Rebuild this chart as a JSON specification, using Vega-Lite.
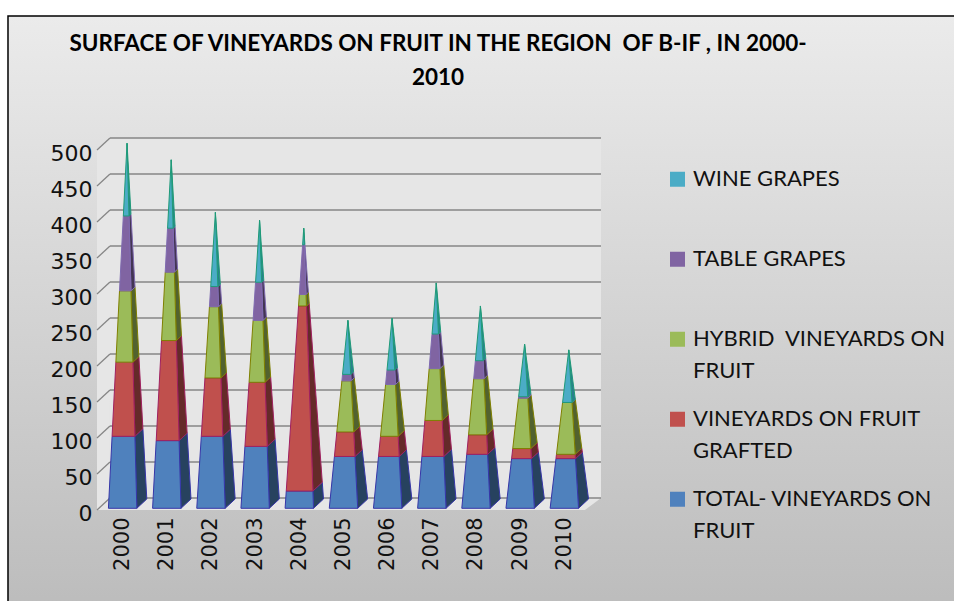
{"$schema":"https://vega.github.io/schema/vega-lite/v6.json","width":504,"height":380,"autosize":{"type":"none"},"padding":{"left":97,"top":130,"right":353,"bottom":91},"background":"white",
"title":{"text":["SURFACE OF VINEYARDS ON FRUIT IN THE REGION \u00a0OF B-IF , IN 2000-","2010"],"font":"Lato","fontWeight":"bold","fontSize":22.5,"color":"#000000","lineHeight":34,"anchor":"middle","dx":89,"offset":-74.5,"align":"center","zindex":1},
"datasets":{"vineyards":[
{"year":2000,"series":"TOTAL- VINEYARDS ON FRUIT","value":100},{"year":2000,"series":"VINEYARDS ON FRUIT GRAFTED","value":103},{"year":2000,"series":"HYBRID  VINEYARDS ON FRUIT","value":99},{"year":2000,"series":"TABLE GRAPES","value":104},{"year":2000,"series":"WINE GRAPES","value":101},
{"year":2001,"series":"TOTAL- VINEYARDS ON FRUIT","value":94},{"year":2001,"series":"VINEYARDS ON FRUIT GRAFTED","value":139},{"year":2001,"series":"HYBRID  VINEYARDS ON FRUIT","value":95},{"year":2001,"series":"TABLE GRAPES","value":61},{"year":2001,"series":"WINE GRAPES","value":95},
{"year":2002,"series":"TOTAL- VINEYARDS ON FRUIT","value":100},{"year":2002,"series":"VINEYARDS ON FRUIT GRAFTED","value":81},{"year":2002,"series":"HYBRID  VINEYARDS ON FRUIT","value":99},{"year":2002,"series":"TABLE GRAPES","value":28},{"year":2002,"series":"WINE GRAPES","value":103},
{"year":2003,"series":"TOTAL- VINEYARDS ON FRUIT","value":86},{"year":2003,"series":"VINEYARDS ON FRUIT GRAFTED","value":89},{"year":2003,"series":"HYBRID  VINEYARDS ON FRUIT","value":86},{"year":2003,"series":"TABLE GRAPES","value":53},{"year":2003,"series":"WINE GRAPES","value":86},
{"year":2004,"series":"TOTAL- VINEYARDS ON FRUIT","value":24},{"year":2004,"series":"VINEYARDS ON FRUIT GRAFTED","value":257},{"year":2004,"series":"HYBRID  VINEYARDS ON FRUIT","value":16},{"year":2004,"series":"TABLE GRAPES","value":69},{"year":2004,"series":"WINE GRAPES","value":23},
{"year":2005,"series":"TOTAL- VINEYARDS ON FRUIT","value":72},{"year":2005,"series":"VINEYARDS ON FRUIT GRAFTED","value":34},{"year":2005,"series":"HYBRID  VINEYARDS ON FRUIT","value":71},{"year":2005,"series":"TABLE GRAPES","value":9},{"year":2005,"series":"WINE GRAPES","value":75},
{"year":2006,"series":"TOTAL- VINEYARDS ON FRUIT","value":72},{"year":2006,"series":"VINEYARDS ON FRUIT GRAFTED","value":28},{"year":2006,"series":"HYBRID  VINEYARDS ON FRUIT","value":72},{"year":2006,"series":"TABLE GRAPES","value":20},{"year":2006,"series":"WINE GRAPES","value":72},
{"year":2007,"series":"TOTAL- VINEYARDS ON FRUIT","value":72},{"year":2007,"series":"VINEYARDS ON FRUIT GRAFTED","value":50},{"year":2007,"series":"HYBRID  VINEYARDS ON FRUIT","value":72},{"year":2007,"series":"TABLE GRAPES","value":48},{"year":2007,"series":"WINE GRAPES","value":71},
{"year":2008,"series":"TOTAL- VINEYARDS ON FRUIT","value":75},{"year":2008,"series":"VINEYARDS ON FRUIT GRAFTED","value":27},{"year":2008,"series":"HYBRID  VINEYARDS ON FRUIT","value":78},{"year":2008,"series":"TABLE GRAPES","value":25},{"year":2008,"series":"WINE GRAPES","value":76},
{"year":2009,"series":"TOTAL- VINEYARDS ON FRUIT","value":69},{"year":2009,"series":"VINEYARDS ON FRUIT GRAFTED","value":14},{"year":2009,"series":"HYBRID  VINEYARDS ON FRUIT","value":70},{"year":2009,"series":"TABLE GRAPES","value":2},{"year":2009,"series":"WINE GRAPES","value":73},
{"year":2010,"series":"TOTAL- VINEYARDS ON FRUIT","value":69},{"year":2010,"series":"VINEYARDS ON FRUIT GRAFTED","value":6},{"year":2010,"series":"HYBRID  VINEYARDS ON FRUIT","value":72},{"year":2010,"series":"TABLE GRAPES","value":0},{"year":2010,"series":"WINE GRAPES","value":73}
],"ticks":[{"tick":0},{"tick":50},{"tick":100},{"tick":150},{"tick":200},{"tick":250},{"tick":300},{"tick":350},{"tick":400},{"tick":450},{"tick":500}]},
"layer":[
{"data":{"values":[{"a":1997.405,"b":2019,"c":686,"d":-140}]},"mark":{"type":"rect","stroke":"#000000","strokeWidth":1.5,"fill":{"gradient":"linear","x1":0,"y1":0,"x2":0,"y2":1,"stops":[{"offset":0,"color":"#ebebeb"},{"offset":1,"color":"#bcbcbc"}]}},
"encoding":{"x":{"field":"a","type":"quantitative","scale":{"domain":[1999.42,2010.83],"nice":false,"zero":false},"axis":{"values":[2000,2001,2002,2003,2004,2005,2006,2007,2008,2009,2010],"format":"d","labelAngle":-90,"labelFont":"DejaVu Sans","labelFontSize":21,"labelColor":"#111111","labelPadding":7,"domain":false,"ticks":false,"grid":false,"title":null,"labelBaseline":"middle","labelAlign":"right","labelFlush":false,"labelOverlap":false,"labelBound":false,"zindex":1}},"x2":{"field":"b"},"y":{"field":"c","type":"quantitative","scale":{"domain":[0,527.78],"nice":false,"zero":false},"axis":{"values":[0,50,100,150,200,250,300,350,400,450,500],"tickCount":11,"labelFont":"DejaVu Sans","labelFontSize":22,"labelColor":"#111111","labelPadding":5,"labelOffset":3,"domain":false,"ticks":false,"grid":false,"title":null,"labelFlush":false,"labelOverlap":false,"labelBound":false,"zindex":1}},"y2":{"field":"d"}}},
{"data":{"values":[{"a":1999.714,"b":2010.83,"c":16.67,"d":516.67}]},"mark":{"type":"rect","fill":"#e6e6e6"},"encoding":{"x":{"field":"a","type":"quantitative"},"x2":{"field":"b"},"y":{"field":"c","type":"quantitative"},"y2":{"field":"d"}}},
{"data":{"values":[{"a":1999.42,"lo":0,"hi":500},{"a":1999.714,"lo":16.67,"hi":516.67}]},"mark":{"type":"area","fill":"#e6e6e6"},"encoding":{"x":{"field":"a","type":"quantitative"},"y":{"field":"lo","type":"quantitative"},"y2":{"field":"hi"}}},
{"data":{"values":[{"lo":1999.42,"hi":2010.467,"b":0},{"lo":1999.714,"hi":2010.83,"b":16.67}]},"mark":{"type":"area","orient":"horizontal","fill":"#e6e6e6"},"encoding":{"y":{"field":"b","type":"quantitative"},"x":{"field":"lo","type":"quantitative"},"x2":{"field":"hi"}}},
{"data":{"name":"ticks"},"mark":{"type":"rule","color":"#868686","strokeWidth":1.3,"yOffset":-12},"encoding":{"y":{"field":"tick","type":"quantitative"},"x":{"datum":1999.714,"type":"quantitative"},"x2":{"datum":2010.83}}},
{"data":{"name":"ticks"},"transform":[{"calculate":"datum.tick+16.67","as":"top"}],"mark":{"type":"rule","color":"#868686","strokeWidth":1.3},"encoding":{"y":{"field":"tick","type":"quantitative"},"y2":{"field":"top"},"x":{"datum":1999.42,"type":"quantitative"},"x2":{"datum":1999.714}}},
{"mark":{"type":"rule","color":"#9a9a9a","strokeWidth":1.3},"encoding":{"x":{"datum":1999.42,"type":"quantitative"},"y":{"datum":0,"type":"quantitative"},"y2":{"datum":500}}},
{"mark":{"type":"rule","color":"#868686","strokeWidth":1.3},"encoding":{"y":{"datum":0,"type":"quantitative"},"x":{"datum":1999.42,"type":"quantitative"},"x2":{"datum":2010.467}}},
{"mark":{"type":"rule","color":"#9a9a9a","strokeWidth":1.3},"encoding":{"y":{"datum":0,"type":"quantitative"},"y2":{"datum":16.67},"x":{"datum":2010.467,"type":"quantitative"},"x2":{"datum":2010.83}}},
{"data":{"name":"vineyards"},"transform":[
{"calculate":"indexof(['TOTAL- VINEYARDS ON FRUIT','VINEYARDS ON FRUIT GRAFTED','HYBRID  VINEYARDS ON FRUIT','TABLE GRAPES','WINE GRAPES'],datum.series)","as":"ord"},
{"stack":"value","groupby":["year"],"sort":[{"field":"ord","order":"ascending"}],"as":["v0","v1"]},
{"joinaggregate":[{"op":"sum","field":"value","as":"total"}],"groupby":["year"]},
{"calculate":"[0,1,2,3,4]","as":"corner"},{"flatten":["corner"]},
{"calculate":"(datum.corner==2||datum.corner==3)?datum.v1:datum.v0","as":"v"},
{"calculate":"datum.year+((datum.corner==1||datum.corner==2)?0.5479:0.3215)","as":"xf"},
{"calculate":"datum.xf+(datum.year+0.1-datum.xf)*datum.v/datum.total","as":"px"},
{"calculate":"2.36+datum.v+((datum.corner==1||datum.corner==2)?12.9*(1-datum.v/datum.total):0)","as":"py"}],
"mark":{"type":"line","strokeWidth":1,"strokeJoin":"round"},
"encoding":{"x":{"field":"px","type":"quantitative"},"y":{"field":"py","type":"quantitative"},"order":{"field":"corner"},"detail":{"field":"year"},
"fill":{"field":"series","scale":{"domain":["TOTAL- VINEYARDS ON FRUIT","VINEYARDS ON FRUIT GRAFTED","HYBRID  VINEYARDS ON FRUIT","TABLE GRAPES","WINE GRAPES"],"range":["#27425f","#652a29","#52622f","#433553","#2a7f8e"]},"legend":null},
"stroke":{"field":"series","scale":{"domain":["WINE GRAPES","TABLE GRAPES","HYBRID  VINEYARDS ON FRUIT","VINEYARDS ON FRUIT GRAFTED","TOTAL- VINEYARDS ON FRUIT"],"range":["#1f9a78","#7f6ab0","#7f8000","#a02060","#3636a8"]},"legend":null}}},
{"data":{"name":"vineyards"},"transform":[
{"calculate":"indexof(['TOTAL- VINEYARDS ON FRUIT','VINEYARDS ON FRUIT GRAFTED','HYBRID  VINEYARDS ON FRUIT','TABLE GRAPES','WINE GRAPES'],datum.series)","as":"ord"},
{"stack":"value","groupby":["year"],"sort":[{"field":"ord","order":"ascending"}],"as":["v0","v1"]},
{"joinaggregate":[{"op":"sum","field":"value","as":"total"}],"groupby":["year"]},
{"calculate":"[0,1,2,3,4]","as":"corner"},{"flatten":["corner"]},
{"calculate":"(datum.corner==2||datum.corner==3)?datum.v1:datum.v0","as":"v"},
{"calculate":"datum.year+((datum.corner==1||datum.corner==2)?0.3215:-0.3215)","as":"xf"},
{"calculate":"datum.xf+(datum.year+0.1-datum.xf)*datum.v/datum.total","as":"px"},
{"calculate":"2.36+datum.v","as":"py"}],
"mark":{"type":"line","strokeWidth":1,"strokeJoin":"round"},
"encoding":{"x":{"field":"px","type":"quantitative"},"y":{"field":"py","type":"quantitative"},"order":{"field":"corner"},"detail":{"field":"year"},
"fill":{"field":"series","scale":{"domain":["WINE GRAPES","TABLE GRAPES","HYBRID  VINEYARDS ON FRUIT","VINEYARDS ON FRUIT GRAFTED","TOTAL- VINEYARDS ON FRUIT"],"range":["#4bacc6","#8064a2","#9bbb59","#c0504d","#4f81bd"]},
"legend":{"orient":"none","legendX":569.5,"legendY":12.3,"title":null,"symbolType":"square","symbolSize":225,"symbolStrokeWidth":1,"labelFont":"Lato","labelFontSize":22,"labelColor":"#111111","labelLimit":320,"labelOffset":4.5,"clipHeight":74,"rowPadding":0,"labelBaseline":"middle",
"encoding":{"labels":{"lineHeight":{"value":32}}},
"labelExpr":"datum.label=='HYBRID  VINEYARDS ON FRUIT'?['HYBRID \u00a0VINEYARDS ON','FRUIT']:datum.label=='VINEYARDS ON FRUIT GRAFTED'?['VINEYARDS ON FRUIT','GRAFTED']:datum.label=='TOTAL- VINEYARDS ON FRUIT'?['TOTAL- VINEYARDS ON','FRUIT']:[datum.label,' ']"}},
"stroke":{"field":"series","scale":{"domain":["WINE GRAPES","TABLE GRAPES","HYBRID  VINEYARDS ON FRUIT","VINEYARDS ON FRUIT GRAFTED","TOTAL- VINEYARDS ON FRUIT"],"range":["#1f9a78","#7f6ab0","#7f8000","#a02060","#3636a8"]}}}}
],
"resolve":{"scale":{"fill":"independent","stroke":"shared"}},
"config":{"view":{"stroke":null}}}
